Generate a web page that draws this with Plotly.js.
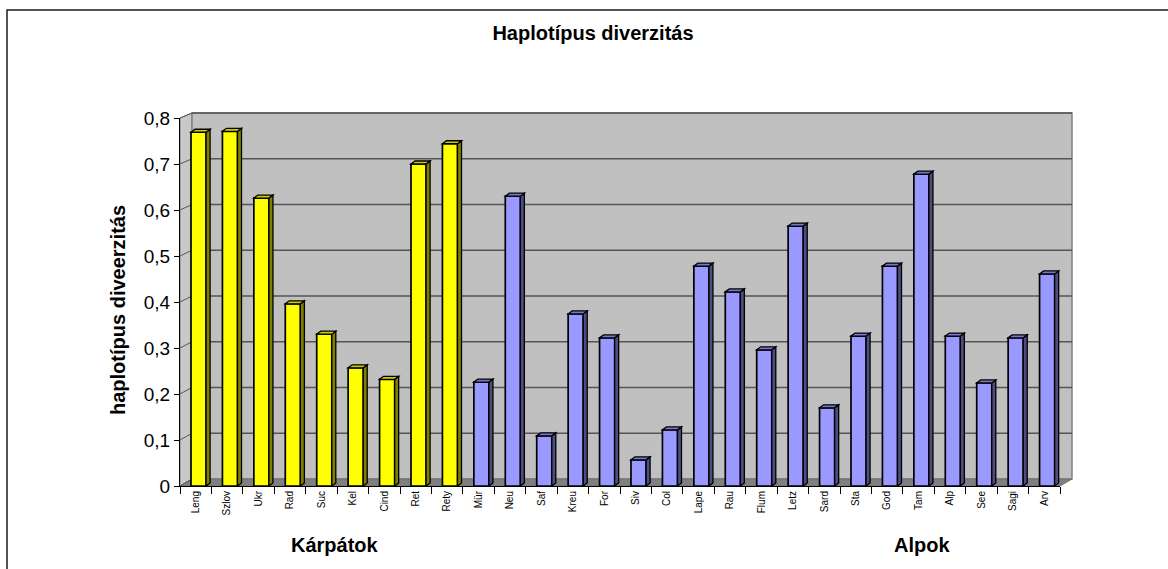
<!DOCTYPE html>
<html>
<head>
<meta charset="utf-8">
<script src="https://cdn.plot.ly/plotly-3.0.1.min.js"></script>
<style>
html,body{margin:0;padding:0;background:#ffffff;}
#chart{width:1168px;height:569px;}
</style>
</head>
<body>
<div id="chart"></div>
<script>
// ---- data ----
const carpathianSites  = ['Leng','Szlov','Ukr','Rad','Suc','Kel','Cind','Ret','Rety'];
const carpathianValues = [0.769, 0.771, 0.626, 0.396, 0.330, 0.257, 0.232, 0.700, 0.744];
const alpineSites  = ['Mür','Neu','Saf','Kreu','For','Siv','Col','Lape','Rau','Flum','Letz','Sard','Sta','God','Tam','Alp','See','Sagi','Arv'];
const alpineValues = [0.226, 0.630, 0.109, 0.374, 0.322, 0.057, 0.122, 0.478, 0.422, 0.296, 0.565, 0.170, 0.326, 0.478, 0.678, 0.326, 0.224, 0.322, 0.461];
const groupLabels = ['Kárpátok', 'Alpok'];
const yTickValues = [0, 0.1, 0.2, 0.3, 0.4, 0.5, 0.6, 0.7, 0.8];

// ---- derived ----
const categories = carpathianSites.concat(alpineSites);
const values = carpathianValues.concat(alpineValues);
const nC = carpathianSites.length;
const frontColors = categories.map((c, i) => i < nC ? '#FFFF00' : '#9999FF');
const sideColors  = categories.map((c, i) => i < nC ? '#808000' : '#4D4D80');
const topColors   = categories.map((c, i) => i < nC ? '#CCCC00' : '#7777CC');

// ---- pseudo-3D frame geometry (pixels) ----
const L = 180, R = 1060, T = 118, B = 486;      // front plane of the plot
const BL = 192, BR = 1072, BT = 113, BB = 479;  // back wall
const pw = R - L, ph = B - T;
const px = x => (x - L) / pw;
const py = y => (B - y) / ph;
const backY = v => BB - v * (BB - BT) / 0.8;
const frontY = v => B - v * ph / 0.8;

const FONT = 'Arial, "Liberation Sans", Helvetica, sans-serif';

const shapes = [];
// outer chart border
shapes.push({type:'rect', xref:'paper', yref:'paper', layer:'below',
  x0: px(7), x1: px(1300), y0: py(700), y1: py(10),
  line:{color:'#1a1a1a', width:1.5}, fillcolor:'rgba(0,0,0,0)'});
// left side wall
shapes.push({type:'path', xref:'paper', yref:'paper', layer:'below',
  path:`M ${px(L)},${py(B)} L ${px(BL)},${py(BB)} L ${px(BL)},${py(BT)} L ${px(L)},${py(T)} Z`,
  fillcolor:'#C8C8C8', line:{color:'#808080', width:1}});
// back wall
shapes.push({type:'rect', xref:'paper', yref:'paper', layer:'below',
  x0: px(BL), x1: px(BR), y0: py(BB), y1: py(BT),
  fillcolor:'#C0C0C0', line:{color:'#808080', width:1.5}});
// floor
shapes.push({type:'path', xref:'paper', yref:'paper', layer:'below',
  path:`M ${px(L)},${py(B)} L ${px(BL)},${py(BB)} L ${px(BR)},${py(BB)} L ${px(R)},${py(B)} Z`,
  fillcolor:'#808080', line:{color:'#707070', width:1}});
// gridlines on back wall and on the left wall
yTickValues.forEach(v => {
  if (v > 0) {
    shapes.push({type:'line', xref:'paper', yref:'paper', layer:'below',
      x0: px(BL), x1: px(BR), y0: py(backY(v)), y1: py(backY(v)),
      line:{color:'#555555', width:1.6}});
  }
  shapes.push({type:'line', xref:'paper', yref:'paper', layer:'below',
    x0: px(L), x1: px(BL), y0: py(frontY(v)), y1: py(backY(v)),
    line:{color:'#555555', width:1}});
});

// bar geometry in category / data units
const barWidth = 0.48, barOffset = -0.15;
const dxs = 4 / (pw / categories.length);
const dys = 3 * 0.8 / ph;
values.forEach((v, i) => {
  const xl = i + barOffset, xr = xl + barWidth;
  shapes.push({type:'path', xref:'x', yref:'y', layer:'above',
    path:`M ${xr},0 L ${xr + dxs},${dys} L ${xr + dxs},${v + dys} L ${xr},${v} Z`,
    fillcolor: sideColors[i], line:{color:'#000000', width:1.3}});
  shapes.push({type:'path', xref:'x', yref:'y', layer:'above',
    path:`M ${xl},${v} L ${xl + dxs},${v + dys} L ${xr + dxs},${v + dys} L ${xr},${v} Z`,
    fillcolor: topColors[i], line:{color:'#000000', width:1.3}});
});

const trace = {
  type:'bar',
  x: categories,
  y: values,
  width: barWidth,
  offset: barOffset,
  marker:{color: frontColors, line:{color:'#000000', width:1.7}},
  hoverinfo:'x+y',
  showlegend:false
};

const layout = {
  width:1168, height:569, autosize:false,
  margin:{l:L, r:1168 - R, t:T, b:569 - B, pad:0},
  paper_bgcolor:'#ffffff',
  plot_bgcolor:'rgba(0,0,0,0)',
  separators:', ',
  font:{family:FONT, color:'#000000'},
  title:{text:'<b>Haplotípus diverzitás</b>', x:593/1168, xanchor:'center',
         y:1 - 33/569, yanchor:'middle', font:{family:FONT, size:20, color:'#000000'}},
  xaxis:{type:'category', range:[-0.5, categories.length - 0.5], fixedrange:true,
         showgrid:false, zeroline:false, showline:true, linecolor:'#000000', linewidth:1,
         ticks:'outside', tickson:'boundaries', ticklen:7, tickcolor:'#000000', tickwidth:1,
         tickangle:-90, tickfont:{family:FONT, size:10, color:'#000000'}},
  yaxis:{range:[0, 0.8], tickvals:yTickValues, fixedrange:true,
         showgrid:false, zeroline:false, showline:true, linecolor:'#000000', linewidth:1,
         ticks:'outside', ticklen:5, tickcolor:'#000000',
         tickfont:{family:FONT, size:19, color:'#000000'}},
  shapes: shapes,
  annotations:[
    {text:'<b>haplotípus diveerzitás</b>', xref:'paper', yref:'paper', x:px(118), y:py(310),
     xanchor:'center', yanchor:'middle', textangle:-90, showarrow:false,
     font:{family:FONT, size:20, color:'#000000'}},
    {text:'<b>' + groupLabels[0] + '</b>', xref:'paper', yref:'paper', x:px(335), y:py(545),
     xanchor:'center', yanchor:'middle', showarrow:false, font:{family:FONT, size:20, color:'#000000'}},
    {text:'<b>' + groupLabels[1] + '</b>', xref:'paper', yref:'paper', x:px(922), y:py(545),
     xanchor:'center', yanchor:'middle', showarrow:false, font:{family:FONT, size:20, color:'#000000'}}
  ],
  bargap:0.5
};

Plotly.newPlot('chart', [trace], layout, {displayModeBar:false, responsive:false});
</script>
</body>
</html>
